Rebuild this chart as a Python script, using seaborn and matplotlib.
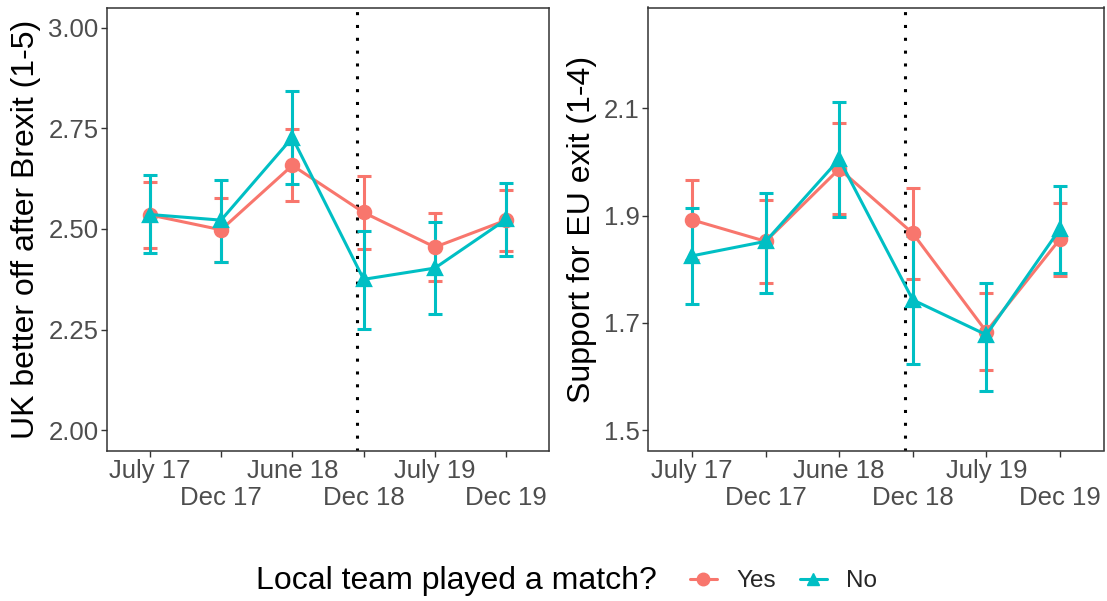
import numpy as np
import pandas as pd
import matplotlib
matplotlib.use("Agg")
import matplotlib.pyplot as plt
import seaborn as sns
from matplotlib.lines import Line2D

waves = ["July 17", "Dec 17", "June 18", "Dec 18", "July 19", "Dec 19"]
groups = ["Yes", "No"]

# UK better off after Brexit (1-5)
better_yes = [2.535, 2.498, 2.658, 2.541, 2.455, 2.522]
better_yes_lo = [2.454, 2.419, 2.570, 2.450, 2.371, 2.446]
better_yes_hi = [2.616, 2.576, 2.748, 2.631, 2.539, 2.598]
better_no = [2.536, 2.522, 2.727, 2.375, 2.403, 2.524]
better_no_lo = [2.440, 2.419, 2.611, 2.251, 2.288, 2.433]
better_no_hi = [2.633, 2.622, 2.842, 2.495, 2.517, 2.615]

# Support for EU exit (1-4)
exit_yes = [1.892, 1.852, 1.987, 1.867, 1.684, 1.856]
exit_yes_lo = [1.818, 1.775, 1.903, 1.782, 1.612, 1.788]
exit_yes_hi = [1.966, 1.929, 2.072, 1.952, 1.755, 1.924]
exit_no = [1.825, 1.852, 2.005, 1.743, 1.678, 1.875]
exit_no_lo = [1.735, 1.756, 1.898, 1.624, 1.574, 1.793]
exit_no_hi = [1.914, 1.942, 2.111, 1.862, 1.775, 1.955]

palette = {"Yes": "#F8766D", "No": "#00BFC4"}

sns.set_theme(style="white")
plt.rcParams["font.family"] = ["Liberation Sans", "DejaVu Sans"]


def make_df(yes, yes_lo, yes_hi, no, no_lo, no_hi):
    rows = []
    for g, m, lo, hi in [("Yes", yes, yes_lo, yes_hi), ("No", no, no_lo, no_hi)]:
        for w, a, b, c in zip(waves, m, lo, hi):
            rows.append({"wave": w, "group": g, "value": a, "lo": b, "hi": c})
    return pd.DataFrame(rows)


def panel(ax, df, ylabel, ylim, yticks, fmt):
    xpos = np.arange(len(waves))
    # error bars underneath the points
    for g in groups:
        d = df[df["group"] == g].set_index("wave").loc[waves]
        ax.errorbar(xpos, d["value"], yerr=[d["value"] - d["lo"], d["hi"] - d["value"]],
                    fmt="none", ecolor=palette[g], elinewidth=2.2, capsize=4.8,
                    capthick=2.2, zorder=2)
    sns.pointplot(data=df, x="wave", y="value", hue="group", order=waves,
                  hue_order=groups, palette=palette, markers=["o", "^"],
                  linestyles=["-", "-"], errorbar=None, ax=ax, legend=False,
                  markersize=9.5, linewidth=2.2)
    ax.axvline(2.9, color="black", linewidth=2.2, linestyle=(0, (1, 3.2)), zorder=1)
    ax.set_xlim(-0.6, 5.6)
    ax.set_ylim(*ylim)
    ax.set_yticks(yticks)
    ax.set_yticklabels([fmt.format(v) for v in yticks])
    # staggered labels: even waves on the first row, odd waves on the second
    ax.set_xticks(xpos[0::2])
    ax.set_xticklabels(waves[0::2])
    ax.set_xticks(xpos[1::2], minor=True)
    ax.set_xticklabels(waves[1::2], minor=True)
    ax.set_xlabel("")
    ax.set_ylabel(ylabel, fontsize=23, color="black", labelpad=5)
    ax.tick_params(axis="both", which="both", labelsize=18.5, labelcolor="#4D4D4D",
                   color="#333333", length=4, width=1, bottom=True, left=True, pad=2)
    ax.tick_params(axis="x", which="minor", pad=21.5)
    for s in ax.spines.values():
        s.set_color("#333333")
        s.set_linewidth(1.1)
        s.set_visible(True)


fig = plt.figure(figsize=(11.07, 6.01), dpi=100)
ax1 = fig.add_axes([107 / 1107, 1 - 450.5 / 601, 442 / 1107, 443 / 601])
ax2 = fig.add_axes([648 / 1107, 1 - 450.5 / 601, 456 / 1107, 443 / 601])

panel(ax1, make_df(better_yes, better_yes_lo, better_yes_hi, better_no, better_no_lo, better_no_hi),
      "UK better off after Brexit (1-5)", (1.95, 3.05), [2.0, 2.25, 2.5, 2.75, 3.0], "{:.2f}")
panel(ax2, make_df(exit_yes, exit_yes_lo, exit_yes_hi, exit_no, exit_no_lo, exit_no_hi),
      "Support for EU exit (1-4)", (1.4625, 2.2875), [1.5, 1.7, 1.9, 2.1], "{:.1f}")

fig.text(657 / 1107, 1 - 581 / 601, "Local team played a match?", ha="right", va="center",
         fontsize=23, color="black")
handles = [Line2D([], [], color=palette[g], marker=m, markersize=9, linewidth=2.2)
           for g, m in zip(groups, ["o", "^"])]
fig.legend(handles, groups, loc="center left", bbox_to_anchor=(668 / 1107, 1 - 581 / 601),
           ncol=2, frameon=False, fontsize=17.5, handlelength=1.1, handletextpad=0.8,
           columnspacing=1.0, borderpad=0.4)

fig.savefig("out.png", dpi=100)
